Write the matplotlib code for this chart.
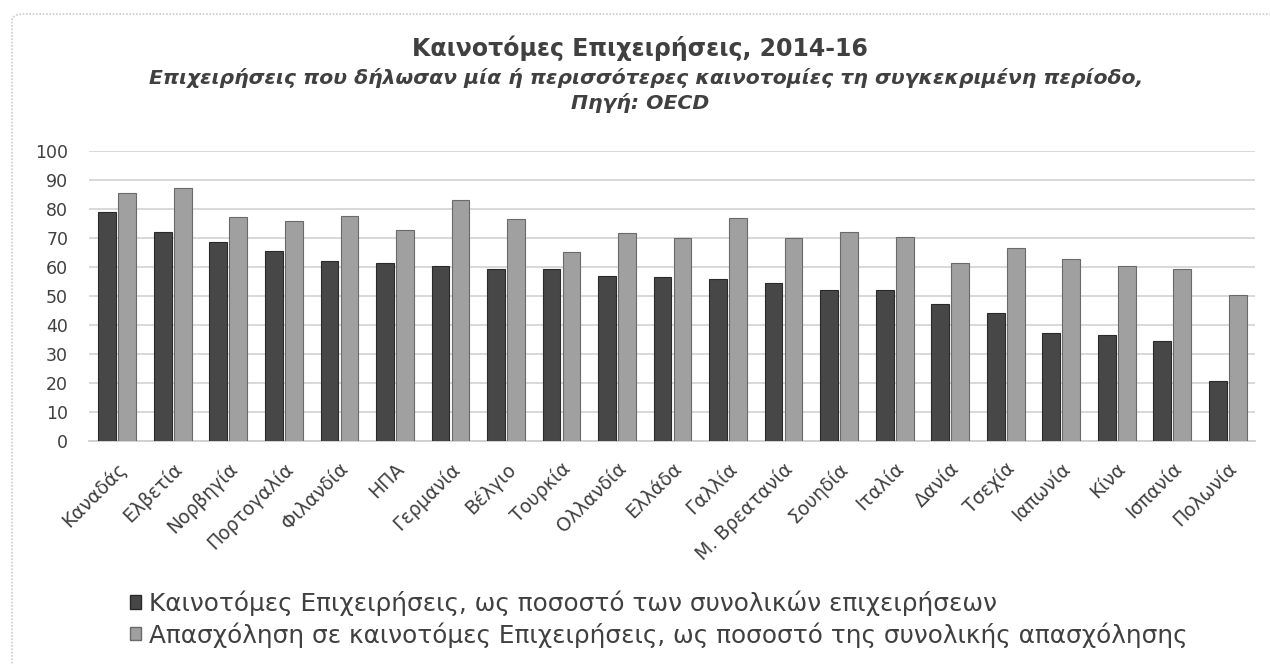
import numpy as np
import matplotlib
matplotlib.use("Agg")
import matplotlib.pyplot as plt
from matplotlib.patches import Patch, FancyBboxPatch

plt.rcParams['font.family'] = ['DejaVu Sans']

countries = ["Καναδάς", "Ελβετία", "Νορβηγία", "Πορτογαλία", "Φιλανδία", "ΗΠΑ",
             "Γερμανία", "Βέλγιο", "Τουρκία", "Ολλανδία", "Ελλάδα", "Γαλλία",
             "Μ. Βρεατανία", "Σουηδία", "Ιταλία", "Δανία", "Τσεχία", "Ιαπωνία",
             "Κίνα", "Ισπανία", "Πολωνία"]
innov_firms = [78.8, 71.9, 68.5, 65.4, 62.2, 61.5, 60.4, 59.2, 59.2, 57.0, 56.5,
               55.8, 54.4, 51.9, 51.9, 47.1, 44.2, 37.2, 36.7, 34.6, 20.6]
innov_empl = [85.5, 87.4, 77.4, 75.8, 77.7, 72.9, 83.2, 76.5, 65.3, 71.6, 69.9,
              76.9, 70.0, 71.9, 70.3, 61.4, 66.6, 62.8, 60.5, 59.2, 50.4]
series_names = ["Καινοτόμες Επιχειρήσεις, ως ποσοστό των συνολικών επιχειρήσεων",
                "Απασχόληση σε καινοτόμες Επιχειρήσεις, ως ποσοστό της συνολικής απασχόλησης"]
yticks = list(range(0, 101, 10))

DARK = "#474747"
LIGHT = "#a0a0a0"
TXT = "#404040"

fig = plt.figure(figsize=(12.7, 6.64), dpi=100)
ax = fig.add_axes([89 / 1270, 1 - 441 / 664, (1255 - 89) / 1270, (441 - 151) / 664])

x = np.arange(len(countries))
w = 0.32
ax.bar(x - 0.17, innov_firms, w, color=DARK, edgecolor="#2a2a2a", linewidth=0.8, zorder=3)
ax.bar(x + 0.19, innov_empl, w, color=LIGHT, edgecolor="#6a6a6a", linewidth=0.8, zorder=3)

ax.set_xlim(-0.5, len(countries) - 0.5)
ax.set_ylim(0, 100)
ax.set_yticks(yticks)
ax.tick_params(axis='y', length=0, labelsize=12.5, labelcolor=TXT, pad=15)
ax.tick_params(axis='x', length=0, labelsize=13.5, labelcolor=TXT, pad=13)
ax.set_xticks(x)
ax.set_xticklabels(countries, rotation=45, ha='right', rotation_mode='anchor')
for lab in ax.get_xticklabels():
    lab.set_va('top')
ax.grid(axis='y', color="#d6d6d6", linewidth=1.3, zorder=0)
for s in ["top", "right", "left"]:
    ax.spines[s].set_visible(False)
ax.spines["bottom"].set_color("#cfcfcf")
ax.spines["bottom"].set_linewidth(1.3)

fig.text(0.504, 1 - 48 / 664, "Καινοτόμες Επιχειρήσεις, 2014-16", ha='center', va='center',
         fontsize=17, fontweight='bold', color=TXT)
fig.text(0.509, 1 - 78 / 664, "Επιχειρήσεις που δήλωσαν μία ή περισσότερες καινοτομίες τη συγκεκριμένη περίοδο,",
         ha='center', va='center', fontsize=14.7, fontweight='bold', style='italic', color=TXT)
fig.text(0.504, 1 - 103 / 664, "Πηγή: OECD", ha='center', va='center', fontsize=14.7,
         fontweight='bold', style='italic', color=TXT)

handles = [Patch(facecolor=DARK, edgecolor="#2a2a2a"), Patch(facecolor=LIGHT, edgecolor="#6a6a6a")]
fig.legend(handles, series_names, loc='upper left', bbox_to_anchor=(118 / 1270, 1 - 578 / 664),
           frameon=False, fontsize=17.8, handlelength=0.45, handleheight=0.45, handletextpad=0.3,
           labelspacing=0.25, borderpad=0, labelcolor=TXT)

border = FancyBboxPatch((12 / 1270, -0.05), 1.2, 1.05 - 14 / 664, boxstyle="round,pad=0,rounding_size=0.01",
                        transform=fig.transFigure, fill=False, edgecolor="#cccccc",
                        linestyle=(0, (1, 1)), linewidth=1.2)
fig.patches.append(border)

fig.savefig("out.png", dpi=100)
